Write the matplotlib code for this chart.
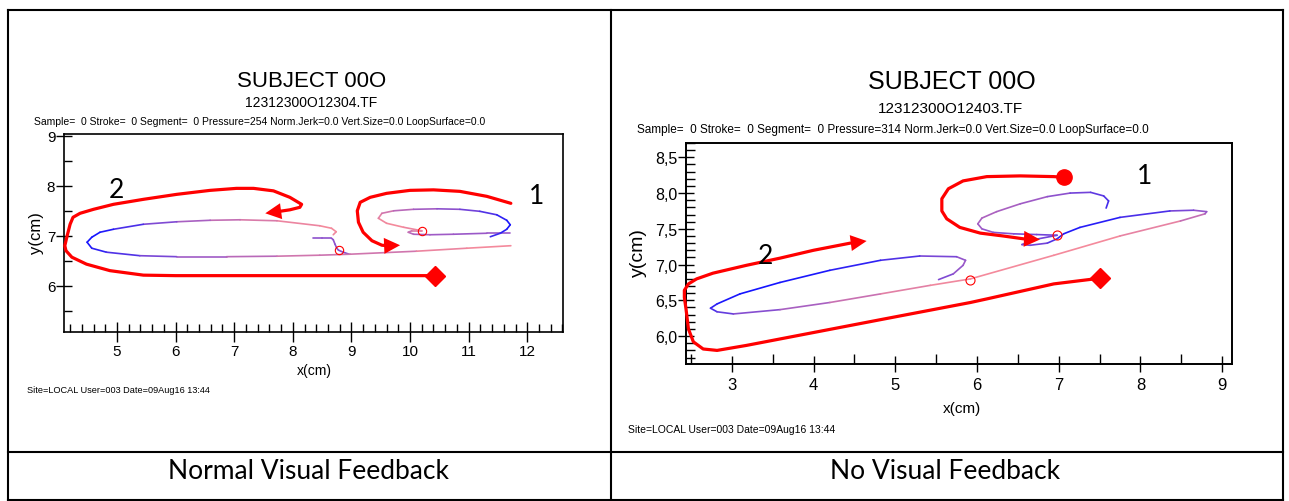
"""
Reproduz a figura com duas tentativas de escrita (com e sem feedback visual).
Saida: out.png
"""

import numpy as np
import matplotlib
matplotlib.use('Agg')
import matplotlib.pyplot as plt
from matplotlib.collections import LineCollection
from matplotlib.colors import LinearSegmentedColormap
from matplotlib.lines import Line2D
from matplotlib.ticker import MultipleLocator, FixedLocator

W, H = 1289, 502
SANS = ['Liberation Sans', 'DejaVu Sans']
CAPTION = ['Lato', 'DejaVu Sans']
RED = '#ff0000'
CMAP = LinearSegmentedColormap.from_list('vel', ['#1414ff', '#9a58c8', '#f48a9c'])

# ---------------- painel esquerdo (Normal Visual Feedback) ----------------
left_info = 'Sample=  0 Stroke=  0 Segment=  0 Pressure=254 Norm.Jerk=0.0 Vert.Size=0.0 LoopSurface=0.0'
left_file = '12312300O12304.TF'

# tracos vermelhos (setas)
l_red2_x = [10.42, 9.5, 8.46, 7.0, 6.0, 5.45, 4.88, 4.48, 4.23, 4.13, 4.11, 4.15, 4.20, 4.25, 4.37,
            4.60, 4.94, 5.45, 6.02, 6.59, 7.04, 7.33, 7.67, 7.95, 8.15, 8.12, 7.95, 7.72]
l_red2_y = [6.20, 6.20, 6.20, 6.20, 6.20, 6.21, 6.30, 6.43, 6.57, 6.70, 6.80, 7.00, 7.23, 7.37, 7.45,
            7.53, 7.63, 7.73, 7.83, 7.91, 7.95, 7.95, 7.90, 7.77, 7.63, 7.57, 7.52, 7.48]
l_red2_tip = (7.53, 7.45)
l_red1_x = [11.72, 11.31, 10.85, 10.40, 10.0, 9.60, 9.32, 9.15, 9.10, 9.12, 9.20, 9.35, 9.52, 9.62]
l_red1_y = [7.65, 7.79, 7.89, 7.92, 7.91, 7.85, 7.77, 7.67, 7.50, 7.27, 7.07, 6.90, 6.81, 6.80]
l_red1_tip = (9.83, 6.81)
l_diamond = (10.42, 6.20)

# traco fino (cor = velocidade: 0 azul, 1 rosa)
l_sq_x = [8.35, 8.50, 8.66, 8.69, 8.72, 8.75, 8.78, 8.86, 8.96]
l_sq_y = [6.95, 6.95, 6.95, 6.92, 6.83, 6.75, 6.71, 6.67, 6.63]
l_sq_c = [0.45, 0.45, 0.45, 0.45, 0.45, 0.45, 0.45, 0.4, 0.4]
l_loop2_x = [8.69, 8.74, 8.66, 8.46, 7.73, 7.10, 6.59, 6.02, 5.45, 4.94, 4.71, 4.57, 4.49, 4.57, 4.82,
             5.39, 6.02, 6.87, 7.73, 8.46, 8.98, 10.11, 10.97, 11.72]
l_loop2_y = [7.02, 7.08, 7.15, 7.20, 7.30, 7.32, 7.31, 7.28, 7.23, 7.13, 7.07, 6.97, 6.87, 6.75, 6.67,
             6.60, 6.58, 6.58, 6.59, 6.61, 6.63, 6.69, 6.75, 6.80]
l_loop2_c = [0.95, 1.0, 1.0, 1.0, 0.9, 0.8, 0.65, 0.5, 0.3, 0.1, 0.0, 0.0, 0.0, 0.05, 0.15,
             0.3, 0.45, 0.6, 0.75, 0.85, 0.7, 0.9, 1.0, 1.0]
l_loop1_x = [11.71, 11.31, 10.74, 10.34, 10.06, 9.97, 10.03, 10.20, 9.89, 9.60, 9.46, 9.52, 9.72, 10.06,
             10.46, 10.85, 11.19, 11.48, 11.65, 11.71, 11.65, 11.54, 11.37]
l_loop1_y = [7.05, 7.05, 7.03, 7.02, 7.03, 7.07, 7.10, 7.10, 7.17, 7.25, 7.35, 7.45, 7.50, 7.53,
             7.54, 7.53, 7.49, 7.42, 7.31, 7.22, 7.13, 7.05, 6.98]
l_loop1_c = [0.5, 0.5, 0.5, 0.55, 0.6, 0.7, 0.8, 0.9, 1.0, 1.0, 0.95, 0.85, 0.75, 0.6,
             0.5, 0.4, 0.3, 0.15, 0.05, 0.0, 0.05, 0.1, 0.2]
l_circles_x = [8.78, 10.20]
l_circles_y = [6.72, 7.10]
l_num_pos = {'1': (12.15, 7.80), '2': (4.99, 7.92)}

# ---------------- painel direito (No Visual Feedback) ----------------
right_info = 'Sample=  0 Stroke=  0 Segment=  0 Pressure=314 Norm.Jerk=0.0 Vert.Size=0.0 LoopSurface=0.0'
right_file = '12312300O12403.TF'
r_yticks = [6.0, 6.5, 7.0, 7.5, 8.0, 8.5]
r_yticklabels = ['6,0', '6,5', '7,0', '7,5', '8,0', '8,5']

r_red2_x = [7.51, 6.94, 6.12, 5.92, 4.82, 4.0, 3.18, 2.82, 2.65, 2.53, 2.47, 2.44, 2.42, 2.42, 2.47,
            2.57, 2.77, 3.18, 3.59, 4.0, 4.45]
r_red2_y = [6.81, 6.73, 6.52, 6.47, 6.23, 6.05, 5.87, 5.80, 5.82, 5.92, 6.10, 6.38, 6.54, 6.64, 6.73,
            6.80, 6.88, 6.99, 7.09, 7.20, 7.30]
r_red2_tip = (4.65, 7.33)
r_red1_x = [7.07, 6.94, 6.53, 6.12, 5.83, 5.65, 5.57, 5.57, 5.63, 5.79, 6.04, 6.32, 6.57]
r_red1_y = [8.22, 8.23, 8.24, 8.23, 8.17, 8.06, 7.92, 7.75, 7.64, 7.52, 7.44, 7.40, 7.36]
r_red1_tip = (6.77, 7.35)
r_dot = (7.07, 8.22)
r_diamond = (7.51, 6.81)

r_loop2_x = [5.53, 5.71, 5.83, 5.86, 5.75, 5.30, 4.82, 4.20, 3.59, 3.10, 2.82, 2.74, 2.82, 3.02, 3.59,
             4.20, 4.82, 5.43, 5.92, 6.94, 7.75, 8.49, 8.79, 8.81, 8.65, 8.36, 7.75, 7.26, 7.06,
             6.98, 6.86, 6.65, 6.55, 6.75, 6.98]
r_loop2_y = [6.79, 6.87, 6.99, 7.06, 7.11, 7.12, 7.06, 6.92, 6.75, 6.59, 6.45, 6.39, 6.34, 6.31, 6.37,
             6.47, 6.59, 6.71, 6.80, 7.13, 7.40, 7.61, 7.71, 7.74, 7.76, 7.75, 7.66, 7.52, 7.43,
             7.36, 7.30, 7.27, 7.28, 7.36, 7.41]
r_loop2_c = [0.35, 0.45, 0.5, 0.5, 0.45, 0.3, 0.15, 0.05, 0.0, 0.0, 0.05, 0.15, 0.25, 0.35, 0.5,
             0.65, 0.85, 0.95, 1.0, 1.0, 1.0, 0.85, 0.6, 0.5, 0.45, 0.3, 0.1, 0.05, 0.05,
             0.15, 0.3, 0.4, 0.4, 0.35, 0.35]
r_loop1_x = [6.98, 6.73, 6.45, 6.20, 6.06, 6.01, 6.06, 6.24, 6.53, 6.86, 7.14, 7.39, 7.55, 7.61, 7.58]
r_loop1_y = [7.41, 7.42, 7.43, 7.45, 7.50, 7.57, 7.65, 7.74, 7.85, 7.95, 8.00, 8.01, 7.96, 7.89, 7.79]
r_loop1_c = [0.35, 0.35, 0.4, 0.45, 0.5, 0.55, 0.6, 0.6, 0.55, 0.5, 0.4, 0.3, 0.25, 0.2, 0.15]
r_circles_x = [5.92, 6.98]
r_circles_y = [6.79, 7.42]
r_num_pos = {'1': (8.05, 8.25), '2': (3.41, 7.13)}

site_text = 'Site=LOCAL User=003 Date=09Aug16 13:44'
subject = 'SUBJECT 00O'


def fx(px):
    return px / W


def fy(py):
    return 1 - py / H


def trace(ax, xs, ys, cs):
    pts = np.column_stack([xs, ys])
    segs = np.stack([pts[:-1], pts[1:]], axis=1)
    cs = np.asarray(cs)
    lc = LineCollection(segs, cmap=CMAP, norm=plt.Normalize(0, 1), linewidths=1.2,
                        capstyle='round', zorder=3)
    lc.set_array((cs[:-1] + cs[1:]) / 2)
    ax.add_collection(lc)


def red_arrow(ax, xs, ys, tip):
    ax.plot(xs, ys, color=RED, lw=2.3, solid_capstyle='round', solid_joinstyle='round',
            clip_on=False, zorder=4)
    ax.annotate('', xy=tip, xytext=(xs[-1], ys[-1]), annotation_clip=False,
                arrowprops=dict(arrowstyle='-|>,head_length=1.0,head_width=0.5',
                                mutation_scale=11.5, color=RED, lw=0, shrinkA=0, shrinkB=0),
                zorder=5)


def left_panel(fig):
    ax = fig.add_axes([fx(64), fy(333), fx(563) - fx(64), fy(135) - fy(333)])
    ax.set_xlim(4.096, 12.61)
    ax.set_ylim(5.07, 9.04)
    ax.xaxis.set_major_locator(MultipleLocator(1))
    ax.xaxis.set_minor_locator(MultipleLocator(0.2))
    ax.yaxis.set_major_locator(MultipleLocator(1))
    ax.yaxis.set_minor_locator(MultipleLocator(0.5))
    ax.tick_params(axis='x', which='major', direction='inout', length=14, width=1.0, pad=1.5, labelsize=11)
    ax.tick_params(axis='x', which='minor', direction='in', length=6, width=1.0)
    ax.tick_params(axis='y', which='major', direction='inout', length=11.5, width=1.0, pad=0.5, labelsize=11)
    ax.tick_params(axis='y', which='minor', direction='in', length=5.6, width=1.0)
    for s in ax.spines.values():
        s.set_linewidth(1.2)

    trace(ax, l_sq_x, l_sq_y, l_sq_c)
    trace(ax, l_loop2_x, l_loop2_y, l_loop2_c)
    trace(ax, l_loop1_x, l_loop1_y, l_loop1_c)
    ax.plot(l_circles_x, l_circles_y, 'o', ms=6, mfc='none', mec=RED, mew=0.8, zorder=6)
    red_arrow(ax, l_red2_x, l_red2_y, l_red2_tip)
    red_arrow(ax, l_red1_x, l_red1_y, l_red1_tip)
    ax.plot(*l_diamond, 'D', ms=10, color=RED, zorder=6)
    for k, (x, y) in l_num_pos.items():
        ax.text(x, y, k, ha='center', va='center', fontsize=19, family=CAPTION, zorder=7)

    fig.text(fx(312), fy(87), subject, ha='center', va='baseline', fontsize=16)
    fig.text(fx(311), fy(107), left_file, ha='center', va='baseline', fontsize=10)
    fig.text(fx(260), fy(125), left_info, ha='center', va='baseline', fontsize=7.5)
    fig.text(fx(314), fy(371), 'x(cm)', ha='center', va='center', fontsize=10)
    fig.text(fx(36), fy(233), 'y(cm)', ha='center', va='center', rotation=90, fontsize=12)
    fig.text(fx(27), fy(393), site_text, ha='left', va='baseline', fontsize=6.6)
    return ax


def right_panel(fig):
    ax = fig.add_axes([fx(686), fy(365), fx(1232) - fx(686), fy(144) - fy(365)])
    ax.set_xlim(2.44, 9.12)
    ax.set_ylim(5.61, 8.70)
    ax.xaxis.set_major_locator(MultipleLocator(1))
    ax.xaxis.set_minor_locator(MultipleLocator(0.5))
    ax.yaxis.set_major_locator(FixedLocator(r_yticks))
    ax.set_yticklabels(r_yticklabels)
    ax.yaxis.set_minor_locator(MultipleLocator(0.1))
    ax.tick_params(axis='x', which='major', direction='inout', length=11, width=1.0, pad=3.5, labelsize=12)
    ax.tick_params(axis='x', which='minor', direction='in', length=7, width=1.0)
    ax.tick_params(axis='y', which='major', direction='inout', length=11, width=1.0, pad=0.5, labelsize=11.5)
    ax.tick_params(axis='y', which='minor', direction='in', length=6.5, width=1.0)
    for s in ax.spines.values():
        s.set_linewidth(1.4)

    trace(ax, r_loop2_x, r_loop2_y, r_loop2_c)
    trace(ax, r_loop1_x, r_loop1_y, r_loop1_c)
    ax.plot(r_circles_x, r_circles_y, 'o', ms=6.5, mfc='none', mec=RED, mew=0.8, zorder=6)
    red_arrow(ax, r_red2_x, r_red2_y, r_red2_tip)
    red_arrow(ax, r_red1_x, r_red1_y, r_red1_tip)
    ax.plot(*r_diamond, 'D', ms=10, color=RED, zorder=6)
    ax.plot(*r_dot, 'o', ms=11, color=RED, zorder=6)
    for k, (x, y) in r_num_pos.items():
        ax.text(x, y, k, ha='center', va='center', fontsize=19, family=CAPTION, zorder=7)

    fig.text(fx(952), fy(89), subject, ha='center', va='baseline', fontsize=18)
    fig.text(fx(950), fy(113), right_file, ha='center', va='baseline', fontsize=11)
    fig.text(fx(893), fy(133), right_info, ha='center', va='baseline', fontsize=8.5)
    fig.text(fx(962), fy(409), 'x(cm)', ha='center', va='center', fontsize=11)
    fig.text(fx(638), fy(253), 'y(cm)', ha='center', va='center', rotation=90, fontsize=14)
    fig.text(fx(628), fy(433), site_text, ha='left', va='baseline', fontsize=7.5)
    return ax


def table_lines(fig):
    kw = dict(color='black', lw=1.5, transform=fig.transFigure)
    for y in (10.5, 453, 500.5):
        fig.add_artist(Line2D([fx(7.5), fx(1282.5)], [fy(y), fy(y)], **kw))
    for x in (7.5, 611, 1282.5):
        fig.add_artist(Line2D([fx(x), fx(x)], [fy(10.5), fy(500.5)], **kw))
    fig.text(fx(309), fy(479), 'Normal Visual Feedback', ha='center', va='baseline',
             fontsize=19, family=CAPTION)
    fig.text(fx(945), fy(479), 'No Visual Feedback', ha='center', va='baseline',
             fontsize=19, family=CAPTION)


def main():
    plt.rcParams['font.family'] = SANS
    fig = plt.figure(figsize=(W / 100, H / 100), dpi=100)
    left_panel(fig)
    right_panel(fig)
    table_lines(fig)
    fig.savefig('out.png', dpi=100)
    plt.close(fig)


if __name__ == '__main__':
    main()
